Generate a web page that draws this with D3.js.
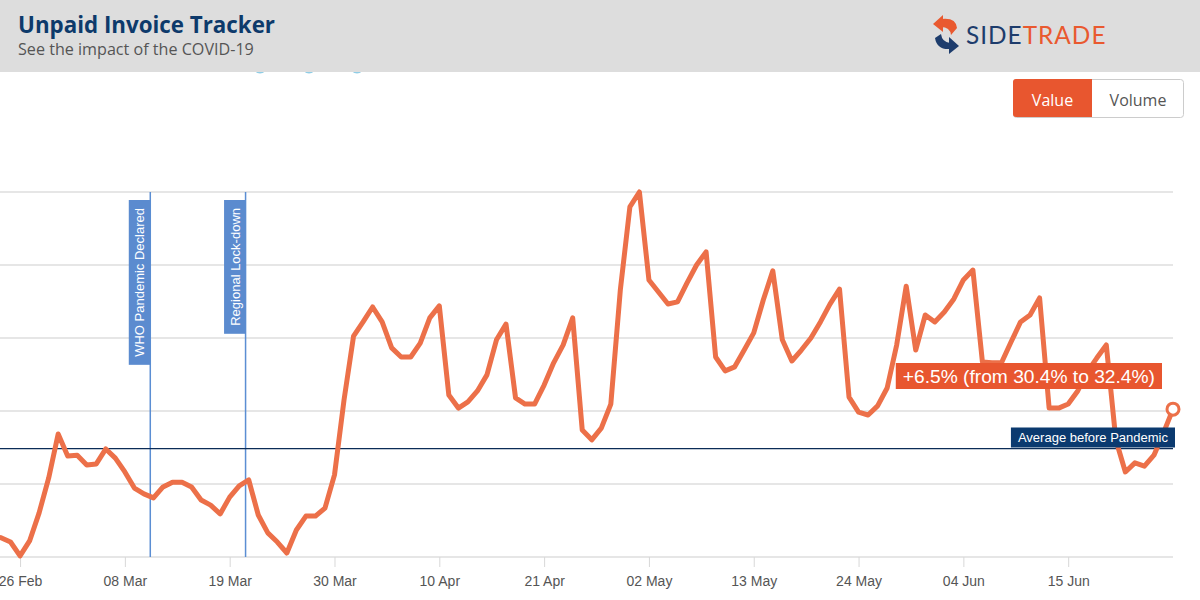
<!DOCTYPE html>
<html>
<head>
<meta charset="utf-8">
<script src="https://cdn.jsdelivr.net/npm/d3@7"></script>
<style>
body { margin: 0; background: #fff; }
svg { display: block; }
</style>
</head>
<body>
<svg id="chart" width="1200" height="600"></svg>
<script>
// daily series, first value is 24 Feb 2020
const startDay = "2020-02-24";
const unpaidValue = [
  26.53, 26.41, 26.03, 26.44, 27.21, 28.16, 29.37, 28.77, 28.79, 28.52,
  28.55, 28.96, 28.71, 28.33, 27.89, 27.73, 27.62, 27.92, 28.05, 28.05,
  27.92, 27.56, 27.42, 27.18, 27.64, 27.95, 28.11, 27.15, 26.66, 26.41,
  26.11, 26.74, 27.12, 27.12, 27.34, 28.25, 30.30, 32.05, 32.44, 32.85,
  32.44, 31.73, 31.48, 31.48, 31.86, 32.55, 32.88, 30.44, 30.08, 30.25,
  30.55, 30.99, 31.95, 32.38, 30.36, 30.19, 30.19, 30.71, 31.32, 31.81,
  32.55, 29.48, 29.21, 29.53, 30.19, 33.32, 35.59, 36.00, 33.59, 33.26,
  32.93, 32.99, 33.51, 34.00, 34.36, 31.48, 31.10, 31.21, 31.67, 32.14,
  33.04, 33.84, 31.95, 31.37, 31.67, 32.00, 32.44, 32.93, 33.34, 30.38,
  29.97, 29.89, 30.14, 30.63, 31.81, 33.42, 31.67, 32.63, 32.44, 32.71,
  33.07, 33.59, 33.86, 31.34, 31.32, 31.32, 31.89, 32.44, 32.63, 33.10,
  30.08, 30.08, 30.19, 30.55, 31.07, 31.45, 31.81, 29.21, 28.33, 28.58,
  28.49, 28.79, 29.40, 30.05
];
const avgBefore = 28.97;
const gridValues = [26, 28, 30, 32, 34, 36];
const tickDays = ["2020-02-26", "2020-03-08", "2020-03-19", "2020-03-30", "2020-04-10",
  "2020-04-21", "2020-05-02", "2020-05-13", "2020-05-24", "2020-06-04", "2020-06-15"];
const eventNames = ["WHO Pandemic Declared", "Regional Lock-down"];
const eventDates = ["2020-03-10T16:00", "2020-03-20T16:00"];
const changeText = "+6.5% (from 30.4% to 32.4%)";
const avgText = "Average before Pandemic";
const buttonNames = ["Value", "Volume"];

const parseDay = d3.timeParse("%Y-%m-%d");
const parseTime = d3.timeParse("%Y-%m-%dT%H:%M");
const day0 = parseDay(startDay);
const data = unpaidValue.map((v, i) => ({ date: d3.timeDay.offset(day0, i), value: v }));

const svg = d3.select("#chart");
const plotTop = 192, plotBottom = 557, plotLeft = 1, plotRight = 1173;
const orange = "#e8562f";

const x = d3.scaleTime()
  .domain(d3.extent(data, d => d.date))
  .range([plotLeft, plotRight]);
const y = d3.scaleLinear()
  .domain([26, 36])
  .range([plotBottom, plotTop]);

// a few legend bubbles sitting under the header band
svg.append("g").selectAll("circle")
  .data([260, 309, 357])
  .join("circle")
  .attr("cx", d => d).attr("cy", 66.5).attr("r", 7)
  .attr("fill", "#8fcde6");

// header band
svg.append("rect").attr("width", 1200).attr("height", 72).attr("fill", "#dddddd");

function fitWidth(sel, w) {
  const cur = sel.node().getComputedTextLength();
  const fs = parseFloat(sel.attr("font-size"));
  sel.attr("font-size", (fs * w / cur).toFixed(2));
}

const title = svg.append("text")
  .attr("x", 18).attr("y", 33)
  .attr("font-family", "'Open Sans', sans-serif")
  .attr("font-weight", 700)
  .attr("font-size", 22)
  .attr("fill", "#0d3a6b")
  .text("Unpaid Invoice Tracker");
fitWidth(title, 257);

const sub = svg.append("text")
  .attr("x", 18).attr("y", 55)
  .attr("font-family", "'Open Sans', sans-serif")
  .attr("font-size", 16)
  .attr("fill", "#555")
  .text("See the impact of the COVID-19");
fitWidth(sub, 236);

// logo
const logo = svg.append("g");
logo.append("path")
  .attr("d", "M941,19 Q956,17 957,28 L951,35 Q950,27 941,27 Z")
  .attr("fill", "#e9592f");
logo.append("path")
  .attr("d", "M933,24 L943,15 L943,32 Z")
  .attr("fill", "#e9592f");
logo.append("path")
  .attr("d", "M935,38 L941,34 Q942,42 950,43 L950,49 Q937,50 935,38 Z")
  .attr("fill", "#1d3c6c");
logo.append("path")
  .attr("d", "M949,37 L959,46 L949,54 Z")
  .attr("fill", "#1d3c6c");
const logoText = logo.append("text")
  .attr("x", 966).attr("y", 44)
  .attr("font-family", "Lato, sans-serif")
  .attr("font-size", 21)
  .attr("letter-spacing", 1);
logoText.append("tspan").attr("fill", "#1d3c6c").text("SIDE");
logoText.append("tspan").attr("fill", "#e9592f").text("TRADE");
fitWidth(logoText, 142);

// toggle buttons
const btnX = [1013, 1092], btnW = [79, 92];
const btn = svg.append("g");
btn.append("rect").attr("x", 1013.5).attr("y", 79.5).attr("width", 170).attr("height", 38)
  .attr("rx", 3).attr("fill", "#fff").attr("stroke", "#ccc");
btn.append("path")
  .attr("d", "M1092,79 L1016,79 Q1013,79 1013,82 L1013,114 Q1013,117 1016,117 L1092,117 Z")
  .attr("fill", orange);
btn.selectAll("text.btn")
  .data(buttonNames)
  .join("text")
  .attr("class", "btn")
  .attr("x", (d, i) => btnX[i] + btnW[i] / 2)
  .attr("y", 105.5)
  .attr("text-anchor", "middle")
  .attr("font-family", "'Open Sans', sans-serif")
  .attr("font-size", 16)
  .attr("fill", (d, i) => i === 0 ? "#fff" : "#555")
  .text(d => d);

// grid
svg.append("g")
  .selectAll("line")
  .data(gridValues)
  .join("line")
  .attr("x1", 0).attr("x2", plotRight)
  .attr("y1", d => y(d)).attr("y2", d => y(d))
  .attr("stroke", "#e6e6e6")
  .attr("stroke-width", 2);

// x axis
const xAxis = svg.append("g")
  .attr("transform", `translate(0,${plotBottom})`)
  .call(d3.axisBottom(x)
    .tickValues(tickDays.map(parseDay))
    .tickFormat(d3.timeFormat("%d %b"))
    .tickSize(10)
    .tickPadding(9));
xAxis.select(".domain").remove();
xAxis.selectAll("line").attr("stroke", "#d8d8d8");
xAxis.selectAll("text")
  .attr("font-family", "'Liberation Sans', Arial, sans-serif")
  .attr("font-size", 14)
  .attr("fill", "#555");

// event lines
const ev = svg.append("g").selectAll("g")
  .data(eventNames.map((n, i) => ({ name: n, date: parseTime(eventDates[i]) })))
  .join("g");
ev.append("line")
  .attr("x1", d => x(d.date)).attr("x2", d => x(d.date))
  .attr("y1", plotTop).attr("y2", plotBottom)
  .attr("stroke", "#5b8ed3").attr("stroke-width", 1.5);
ev.each(function (d) {
  const g = d3.select(this);
  const lx = x(d.date);
  const rect = g.append("rect").attr("fill", "#5b8bcf");
  const t = g.append("text")
    .attr("font-family", "'Liberation Sans', Arial, sans-serif")
    .attr("font-size", 13)
    .attr("fill", "#fff")
    .text(d.name);
  const len = t.node().getComputedTextLength();
  t.attr("transform", `translate(${lx - 6},${200 + len + 8}) rotate(-90)`);
  rect.attr("x", lx - 21.5).attr("y", 200).attr("width", 21.5).attr("height", len + 16);
});

// average before pandemic
svg.append("line")
  .attr("x1", 0).attr("x2", plotRight)
  .attr("y1", y(avgBefore)).attr("y2", y(avgBefore))
  .attr("stroke", "#0b2c57").attr("stroke-width", 1.2);

// the series
svg.append("path")
  .datum(data)
  .attr("fill", "none")
  .attr("stroke", "#ec7049")
  .attr("stroke-width", 5)
  .attr("stroke-linejoin", "round")
  .attr("stroke-linecap", "round")
  .attr("d", d3.line().x(d => x(d.date)).y(d => y(d.value)));

const last = data[data.length - 1];
svg.append("circle")
  .attr("cx", x(last.date)).attr("cy", y(last.value)).attr("r", 6)
  .attr("fill", "#fff").attr("stroke", "#ec7049").attr("stroke-width", 3);

// change label
const chg = svg.append("g");
const chgRect = chg.append("rect").attr("fill", orange);
const chgText = chg.append("text")
  .attr("font-family", "'Liberation Sans', Arial, sans-serif")
  .attr("font-size", 19.2)
  .attr("fill", "#fff")
  .text(changeText);
const cw = chgText.node().getComputedTextLength();
const cRight = x(last.date) - 11;
chgRect.attr("x", cRight - cw - 14).attr("y", 363).attr("width", cw + 14).attr("height", 26);
chgText.attr("x", cRight - cw - 7).attr("y", 383);

// average label
const avg = svg.append("g");
const avgRect = avg.append("rect").attr("fill", "#0b3a6f");
const avgT = avg.append("text")
  .attr("font-family", "'Liberation Sans', Arial, sans-serif")
  .attr("font-size", 13)
  .attr("fill", "#fff")
  .text(avgText);
const aw = avgT.node().getComputedTextLength();
avgRect.attr("x", 1175 - aw - 14).attr("y", 427.5).attr("width", aw + 14).attr("height", 20);
avgT.attr("x", 1175 - aw - 7).attr("y", 442);
</script>
</body>
</html>
